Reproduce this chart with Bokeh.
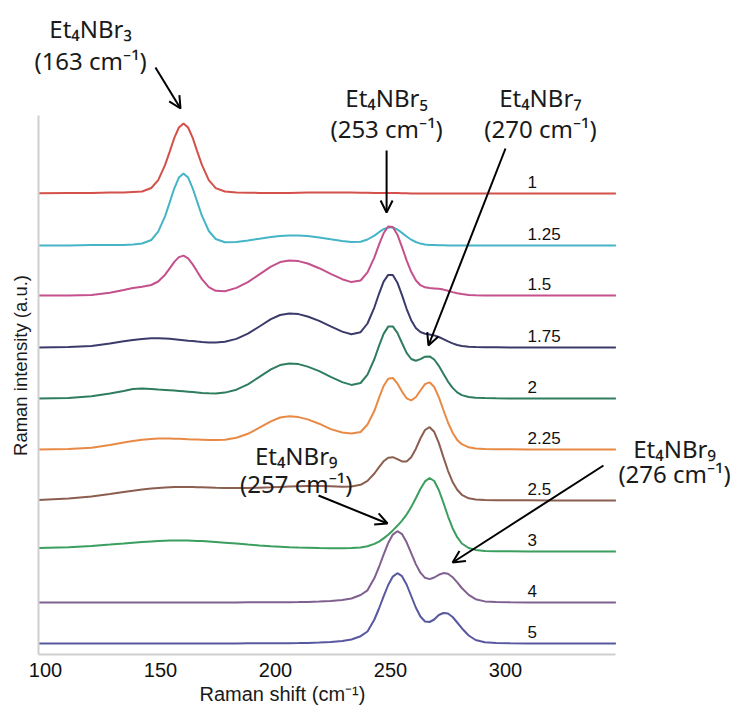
from math import pi
from bokeh.plotting import figure
from bokeh.models import Range1d, FixedTicker, Label, Arrow, OpenHead
from bokeh.embed import file_html
from bokeh.resources import INLINE

# Raman shift grid (cm-1)
shift = [97, 110, 120, 128, 134, 138, 142, 146, 149, 152, 154, 156, 158, 160, 162, 164, 166, 168, 171, 174,
         178, 183, 188, 193, 198, 202, 206, 210, 214, 219, 224, 229, 233, 237, 240, 243, 245, 247, 249, 251,
         253, 255, 257, 259, 261, 263, 265, 267, 269, 271, 273, 275, 277, 279, 281, 284, 287, 291, 296, 302,
         310, 320, 348]

ratios = ["1", "1.25", "1.5", "1.75", "2", "2.25", "2.5", "3", "4", "5"]
offsets = [461, 409, 359, 307, 256, 205, 154, 103, 52, 11]
colors = ["#d4504a", "#45b5c5", "#c4508c", "#3b3b6b", "#2f7d5f", "#e88a45", "#8b5e50", "#3a9e5e", "#80608e", "#5858a0"]

r1 = [0.3, 0.5, 0.5, 1, 1, 1.5, 2, 5.5, 13.4, 28.6, 41.9, 55.6, 66, 70, 66, 55.6, 41.9, 28.6, 13.4, 5.4,
      2, 1, 0.8, 0.6, 0.5, 0.5, 0.6, 0.8, 1, 1, 1, 1, 1, 0.8, 0.7, 0.6, 0.5, 0.5, 0.5, 0.5,
      0.4, 0.3, 0.2, 0.1, 0, 0, 0, 0, 0, 0, 0, 0, 0, 0, 0, 0, 0, 0, 0, 0,
      0, 0, 0]
r125 = [0, 0, 0.5, 0.5, 0.5, 1, 2, 5.5, 13.8, 29.4, 43.1, 57.2, 67.9, 72, 67.9, 57.2, 43.4, 29.8, 14.5, 6.5,
        3.3, 3.6, 5, 6.7, 8.5, 9.5, 10, 10, 9.4, 8, 6.2, 4.5, 3.5, 3.8, 6, 9.9, 13.3, 16.3, 18.1, 18,
        16, 12.6, 9, 5.8, 3.5, 1.9, 1, 0.5, 0.4, 0.3, 0.2, 0, 0, 0, 0, 0, 0, 0, 0, 0,
        0, 0, 0]
r15 = [0, 0, 0.6, 2.8, 5.6, 7.5, 8.8, 10.5, 14, 20.8, 27.2, 33.6, 38.4, 39.9, 37.1, 31.1, 23.7, 16.4, 8.4, 4.7,
       4.3, 7.6, 13.4, 21.2, 28.9, 33.4, 35, 34.4, 32, 27.3, 21.7, 16.3, 13.4, 15, 23.1, 38.2, 50.9, 62.2, 69, 68.5,
       60.8, 48.4, 35.2, 23.7, 15.3, 10.3, 8.2, 7.4, 7.1, 6.7, 5.9, 4.7, 3.4, 2.2, 1.4, 0.6, 0.3, 0, 0, 0,
       0, 0, 0]
r175 = [0, 0.4, 1.6, 3.9, 6.2, 7.6, 8.6, 9.2, 9.3, 9, 8.7, 8.3, 7.8, 7.3, 6.8, 6.4, 5.9, 5.5, 5, 4.9,
        5.8, 8.6, 13.8, 21, 28.3, 32.5, 34, 33.4, 31, 26.6, 21.1, 15.9, 13.3, 15.3, 24, 40.2, 53.7, 65.9, 72.6, 72.4,
        64.8, 52.4, 38.7, 27.3, 19.6, 15.5, 13.8, 13.1, 12.1, 10.5, 8.4, 6.1, 4.1, 2.5, 1.5, 0.7, 0.5, 0.3, 0.2, 0,
        0, 0, 0]
r2 = [0, 0.6, 2.2, 5, 7.5, 9.4, 10, 9.5, 9, 8.6, 8.3, 8, 7.6, 7.2, 6.8, 6.4, 6, 5.6, 5.2, 5.1,
      5.9, 8.8, 14.2, 21.6, 29.1, 33.4, 35, 34.4, 31.9, 27.4, 21.6, 16.4, 13.6, 15.5, 23.8, 39.5, 52.7, 64.6, 71.9, 72.1,
      65.7, 55.5, 45.7, 39.5, 37.7, 39.4, 41.8, 42.1, 39, 32.7, 24.7, 16.9, 10.6, 6.1, 3.4, 1.5, 0.8, 0.4, 0.2, 0,
      0, 0, 0]
r225 = [0, 0.4, 1.8, 4.4, 6.9, 8.4, 9.8, 10.6, 10.9, 11, 10.9, 10.8, 10.8, 10.5, 10.2, 10, 9.9, 9.8, 9.5, 9.4,
        9.7, 11.7, 15.7, 21.8, 28.2, 32, 33.3, 32.4, 30.1, 25.8, 20.4, 17, 16, 17.5, 25, 38.7, 51.7, 63.5, 70.7, 71.5,
        66.1, 57.9, 51.2, 49.1, 52.3, 59, 65.3, 67.2, 62.5, 52.4, 39.5, 27, 16.8, 9.6, 5.3, 2.2, 1, 0.5, 0.3, 0.2,
        0, 0, 0]
r25 = [0.5, 2, 4, 6.5, 8.5, 9.8, 11, 12, 12.6, 13, 13.2, 13.4, 13.5, 13.5, 13.5, 13.4, 13.3, 13.2, 13, 12.8,
       12.6, 12.5, 12.6, 12.8, 13.2, 13.6, 14, 14.3, 14.5, 14.5, 14.2, 13.8, 13.9, 15.7, 19.6, 27, 33.4, 39.2, 42.8, 43.3,
       41.4, 39.1, 39.1, 43.3, 51.6, 62, 70.5, 73.3, 68.7, 57.6, 43.4, 29.7, 18.6, 10.7, 5.7, 2.2, 1.1, 0.6, 0.35, 0.25,
       0.15, 0, 0]
r3 = [3.4, 4.2, 5.5, 6.9, 8, 8.8, 9.5, 10.1, 10.5, 10.8, 10.9, 11, 11, 11, 10.9, 10.8, 10.6, 10.4, 10, 9.5,
      8.8, 7.9, 6.9, 6, 5.2, 4.7, 4.2, 3.9, 3.7, 3.4, 3.3, 3.2, 3.5, 4.1, 5.2, 7.6, 9.9, 13.1, 16.8, 21.1,
      25.7, 30.8, 36.9, 44.4, 53.2, 62.5, 70.1, 73.5, 70.5, 61.5, 48.8, 35.2, 23.3, 14.3, 8, 3.5, 1.6, 0.5, 0.3, 0.2,
      0, 0, 0]
r4 = [0, 0, 0, 0.1, 0.1, 0.1, 0.1, 0.1, 0.1, 0.1, 0.1, 0.1, 0.1, 0.1, 0.1, 0.1, 0.1, 0.1, 0.1, 0.1,
      0.1, 0.1, 0.2, 0.2, 0.2, 0.2, 0.3, 0.4, 0.6, 1, 1.5, 2.5, 4, 7.5, 12.2, 24.4, 35.5, 47.8, 59.4, 67.9,
      71.3, 68.4, 60.2, 49.4, 38.4, 29.8, 24.7, 23.4, 25, 27.7, 29.4, 28.7, 25.3, 20.2, 14.5, 7.6, 3.3, 1.1, 0.5, 0.2,
      0.1, 0, 0]
r5 = [0, 0, 0, 0.1, 0.1, 0.1, 0.1, 0.1, 0.1, 0.1, 0.1, 0.1, 0.1, 0.1, 0.1, 0.1, 0.1, 0.1, 0.1, 0.1,
      0.1, 0.1, 0.2, 0.2, 0.2, 0.2, 0.3, 0.4, 0.6, 1, 1.5, 2.5, 4, 7.3, 12, 24, 35, 47.1, 58.5, 66.9,
      70.3, 67.3, 59, 47.5, 36, 27, 22, 21.5, 24, 28.5, 30.5, 30, 26.5, 21, 15.3, 8, 3.5, 1.2, 0.5, 0.2,
      0.1, 0, 0]
spectra = [r1, r125, r15, r175, r2, r225, r25, r3, r4, r5]

x_ticks = [100, 150, 200, 250, 300]
x_lo, x_hi = 96.96, 347.8      # extent of the drawn axis
y_top = 539

# frame covers the whole canvas so that annotations outside the axes are not clipped
p = figure(width=735, height=707, output_backend="svg", toolbar_location=None,
           x_range=Range1d(80.43, 400.0), y_range=Range1d(-53, 654),
           min_border_left=0, min_border_right=0, min_border_top=0, min_border_bottom=0)
p.outline_line_color = None
p.xgrid.visible = False
p.ygrid.visible = False
p.background_fill_color = "white"
p.border_fill_color = "white"

xa = p.xaxis[0]
xa.fixed_location = 0
xa.bounds = (x_lo, x_hi)
xa.ticker = FixedTicker(ticks=x_ticks)
xa.major_tick_line_color = None
xa.minor_tick_line_color = None
xa.axis_line_color = "#cfcfcf"
xa.axis_line_width = 2
xa.major_label_text_font = "Liberation Sans"
xa.major_label_text_font_size = "20px"
xa.major_label_text_color = "#111111"
xa.major_label_standoff = 2

ya = p.yaxis[0]
ya.fixed_location = x_lo
ya.bounds = (0, y_top)
ya.ticker = FixedTicker(ticks=[])
ya.major_tick_line_color = None
ya.minor_tick_line_color = None
ya.axis_line_color = "#cfcfcf"
ya.axis_line_width = 2

for vals, off, col in zip(spectra, offsets, colors):
    p.line(shift, [off + v for v in vals], line_color=col, line_width=2)

label_x = 309.6
for name, off in zip(ratios, offsets):
    p.add_layout(Label(x=label_x, y=off + 12, text=name, text_align="left", text_baseline="middle",
                       text_font="Liberation Sans", text_font_size="17px", text_color="#111111"))

# axis titles
p.add_layout(Label(x=89.1, y=289, text="Raman intensity (a.u.)", angle=pi / 2, text_align="center",
                   text_baseline="middle", text_font="Liberation Sans", text_font_size="18.5px", text_color="#1a1a1a"))
p.add_layout(Label(x=203, y=-39, text="Raman shift (cm\u207b\u00b9)", text_align="center",
                   text_baseline="middle", text_font="Liberation Sans", text_font_size="20px", text_color="#1a1a1a"))

# peak annotations
notes = [
    ("Et\u2084NBr\u2083", "(163 cm\u207b\u00b9)", 119.6, 626, 594),
    ("Et\u2084NBr\u2085", "(253 cm\u207b\u00b9)", 248.3, 557, 526),
    ("Et\u2084NBr\u2087", "(270 cm\u207b\u00b9)", 315.2, 557, 526),
    ("Et\u2084NBr\u2089", "(257 cm\u207b\u00b9)", 209.0, 199, 171),
    ("Et\u2084NBr\u2089", "(276 cm\u207b\u00b9)", 373.5, 206, 181),
]
for top, bottom, x, y1, y2 in notes:
    for t, y in ((top, y1), (bottom, y2)):
        p.add_layout(Label(x=x, y=y, text=t, text_align="center", text_baseline="middle",
                           text_font="Noto Sans", text_font_size="24px", text_color="#1a1a1a"))

arrows = [
    (147.8, 587, 158.7, 546),
    (248.3, 504, 248.3, 442),
    (300.0, 506, 266.5, 309),
    (218.7, 159, 248.7, 131),
    (342.6, 189, 277.0, 92),
]
for xs, ys, xe, ye in arrows:
    p.add_layout(Arrow(end=OpenHead(size=12, line_width=2, line_color="black"),
                       x_start=xs, y_start=ys, x_end=xe, y_end=ye, line_width=2, line_color="black"))

open("out.html", "w").write(file_html(p, INLINE))
